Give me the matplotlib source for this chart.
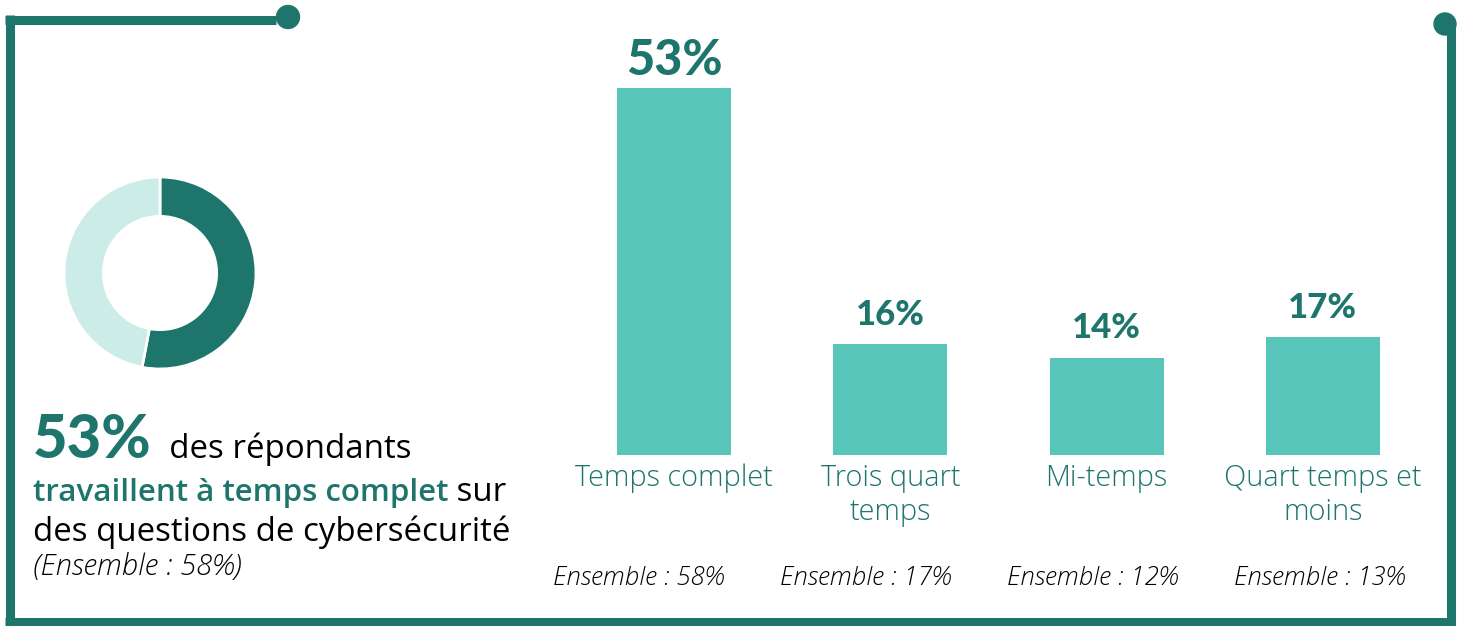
import matplotlib
matplotlib.use("Agg")
import matplotlib.pyplot as plt
from matplotlib import transforms
from matplotlib.patches import Circle

# Donnees
categories = ["Temps complet", "Trois quart\ntemps", "Mi-temps", "Quart temps et\nmoins"]
values = [53, 16, 14, 17]
ensemble = [58, 17, 12, 13]
donut_values = [53, 47]

DARK = "#1D756B"
BAR = "#57C5BA"
LIGHT = "#CCECE8"
NUM_FONT = "Lato"
FONT = "Open Sans"

W, H = 1462, 626
fig = plt.figure(figsize=(W / 100, H / 100), dpi=100)
fig.patch.set_facecolor("white")


def box(x0, y0, x1, y1):
    """Pixel box (top-left origin) -> figure fraction rect."""
    return [x0 / W, 1 - y1 / H, (x1 - x0) / W, (y1 - y0) / H]


# Calque en pixels pour le cadre et les textes
ax0 = fig.add_axes([0, 0, 1, 1])
ax0.set_xlim(0, W)
ax0.set_ylim(H, 0)
ax0.axis("off")

lw = 6.5
ax0.plot([5, 276], [19.5, 19.5], color=DARK, lw=lw, solid_capstyle="butt")
ax0.plot([9.5, 9.5], [15, 626], color=DARK, lw=lw, solid_capstyle="butt")
ax0.plot([5, 1455], [622, 622], color=DARK, lw=lw, solid_capstyle="butt")
ax0.plot([1450.5, 1450.5], [26, 626], color=DARK, lw=lw, solid_capstyle="butt")
ax0.add_patch(Circle((288, 17), 11.5, color=DARK))
ax0.add_patch(Circle((1445, 24), 11, color=DARK))

# Donut
axd = fig.add_axes(box(64, 177, 256, 369))
axd.pie(donut_values, colors=[DARK, LIGHT], startangle=90, counterclock=False,
        radius=1, wedgeprops=dict(width=0.41, edgecolor="white", linewidth=2))
axd.set_xlim(-1, 1)
axd.set_ylim(-1, 1)
axd.set_aspect("equal")
axd.axis("off")

# Texte a gauche (morceaux de styles differents sur une meme ligne)
renderer = fig.canvas.get_renderer()


def rich_line(x, y, parts):
    t = ax0.transData
    for s, kw in parts:
        txt = ax0.text(x, y, s, transform=t, va="baseline", ha="left", **kw)
        txt.draw(renderer)
        ex = txt.get_window_extent(renderer)
        t = transforms.offset_copy(txt.get_transform(), fig=fig, x=ex.width, units="dots")


body = dict(fontsize=23.8, color="black", family=FONT)
rich_line(33, 458, [("53%", dict(fontsize=43, weight="black", color=DARK, family=NUM_FONT)),
                    ("  des répondants", body)])
rich_line(33, 501, [("travaillent à temps complet",
                     dict(fontsize=22.5, weight=600, color=DARK, family=FONT)),
                    (" sur", body)])
rich_line(33, 541, [("des questions de cybersécurité", body)])
rich_line(33, 575, [("(Ensemble : 58%)", dict(fontsize=21, style="italic", weight=300,
                                                 color="black", family=FONT))])

# Barres
axb = fig.add_axes(box(566, 39, 1431, 455))
x = range(len(categories))
axb.bar(x, values, width=0.527, color=BAR)
axb.set_xlim(-0.5, 3.5)
axb.set_ylim(0, 60)
axb.axis("off")

for i, v in enumerate(values):
    big = i == 0
    axb.annotate(f"{v}%", xy=(i, v), xytext=(0, 9 if big else 14), textcoords="offset points",
                 ha="center", va="baseline", fontsize=35 if big else 25,
                 weight="black", color=DARK, family=NUM_FONT)
    axb.annotate(categories[i], xy=(i, 0), xytext=(0, -6), textcoords="offset points",
                 ha="center", va="top", fontsize=20.8, weight=300, color=DARK,
                 family=FONT, linespacing=1.2)

for i, e in enumerate(ensemble):
    ax0.text(553 + 227 * i, 585, f"Ensemble : {e}%", ha="left", va="baseline",
             fontsize=18.5, style="italic", weight=300, color="black", family=FONT)

fig.savefig("out.png", dpi=100, facecolor="white")
